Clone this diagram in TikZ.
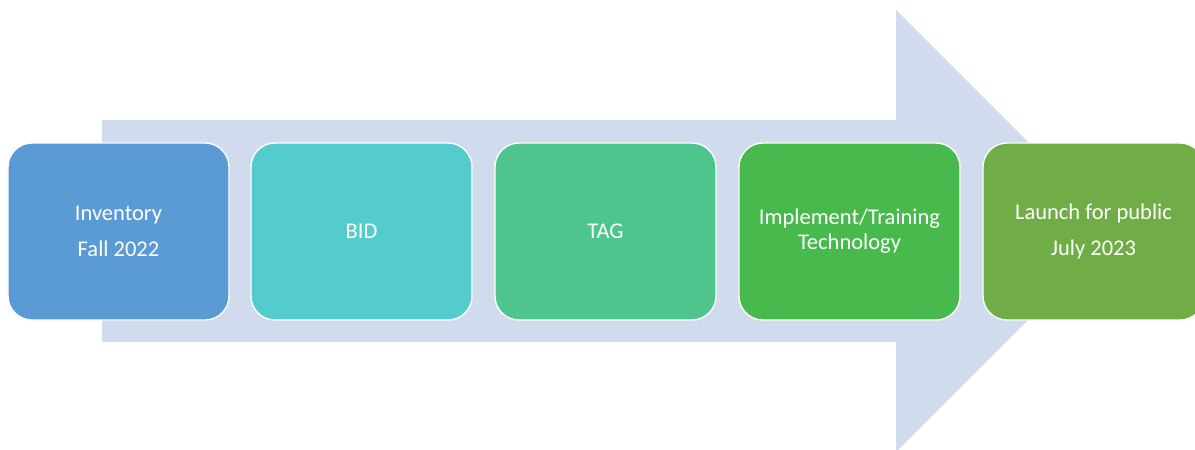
\documentclass[tikz,border=0pt]{standalone}
\usepackage{fontspec}
\setmainfont{Carlito}
\usepackage{xcolor}
\definecolor{arrowbg}{RGB}{208,220,238}
\definecolor{inv}{RGB}{91,155,213}
\definecolor{bid}{RGB}{84,203,204}
\definecolor{tag}{RGB}{79,197,142}
\definecolor{impl}{RGB}{72,186,77}
\definecolor{launch}{RGB}{112,173,71}

\begin{document}
\begin{tikzpicture}[x=0.025cm, y=-0.025cm,
    stage/.style={rectangle, rounded corners=0.6cm, draw=white, line width=1pt,
      text=white, minimum width=5.525cm, minimum height=4.425cm, align=center,
      font=\fontsize{16}{17.8}\selectfont}]
      \useasboundingbox (0,0) rectangle (1195,449);
      \clip (0,0) rectangle (1195,449);

      \fill[arrowbg] (102,120) -- (896,120) -- (896,10) -- (1117,231)
        -- (896,452) -- (896,342) -- (102,342) -- cycle;

      \node[stage, fill=inv] (1) at (118.5,231.5) {Inventory\\[7.8pt]Fall 2022};
      \node[stage, fill=bid] (2) at (361.5,231.5) {BID};
      \node[stage, fill=tag] (3) at (605.5,231.5) {TAG};
      \node[stage, fill=impl] (4) at (849.5,231.5) {Implement/Training\\Technology};
      \node[stage, fill=launch] (5) at (1093.5,231.5) {Launch for public\\[7.8pt]July 2023};
    \end{tikzpicture}
\end{document}
